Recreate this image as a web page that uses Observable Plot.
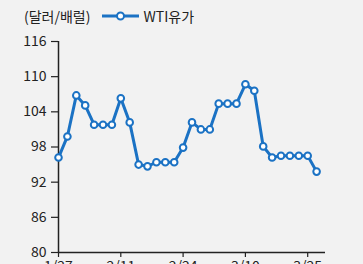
<!DOCTYPE html>
<html><head><meta charset="utf-8">
<script src="https://cdn.jsdelivr.net/npm/d3@7"></script>
<script src="https://cdn.jsdelivr.net/npm/@observablehq/plot@0.6"></script>
<style>
html,body{margin:0;padding:0;background:#f2f2f2;overflow:hidden;}
#wrap{position:relative;width:363px;height:264px;font-family:"Noto Sans CJK KR","Noto Sans",sans-serif;color:#222;}
#legend{position:absolute;left:24px;top:6px;font-size:14px;display:flex;align-items:center;white-space:nowrap;}
#legend svg{margin:0 4px 0 12px;}
#chart{position:absolute;left:0;top:0;}
</style></head>
<body><div id="wrap">
<div id="chart"></div>
<div id="legend"><span>(달러/배럴)</span><svg width="37" height="12"><line x1="0" y1="6" x2="37" y2="6" stroke="#1b72c4" stroke-width="3"/><circle cx="18.5" cy="6" r="3.5" fill="#fff" stroke="#1b72c4" stroke-width="2"/></svg><span>WTI유가</span></div>
</div>
<script>
const seriesName = "WTI유가";
const values = [96.2, 99.8, 106.8, 105.1, 101.8, 101.8, 101.8, 106.3, 102.2, 95.0,
                94.7, 95.4, 95.4, 95.4, 97.9, 102.2, 101.0, 101.0, 105.4, 105.4,
                105.4, 108.7, 107.6, 98.1, 96.2, 96.5, 96.5, 96.5, 96.5, 93.8];
const tickIndex = [0, 7, 14, 21, 28];
const tickLabels = ["1/27", "2/11", "2/24", "3/10", "3/25"];
const yTicks = [80, 86, 92, 98, 104, 110, 116];

const data = values.map((v, i) => ({i, v}));
const color = "#1b72c4";

const chart = Plot.plot({
  width: 363,
  height: 280,
  marginLeft: 58,
  marginRight: 38,
  marginTop: 41,
  marginBottom: 28,
  style: {background: "transparent", fontFamily: '"Noto Sans CJK KR","Noto Sans",sans-serif', fontSize: "14px", color: "#222"},
  x: {domain: [0, 30]},
  y: {domain: [80, 116]},
  marks: [
    Plot.axisY({ticks: yTicks, tickSize: 7, tickPadding: 5, label: null, stroke: "#222", strokeWidth: 1.2}),
    Plot.axisX({ticks: tickIndex, tickFormat: (d) => tickLabels[tickIndex.indexOf(d)], tickSize: 5, tickPadding: 4, label: null, stroke: "#222", strokeWidth: 1.2}),
    Plot.ruleX([0], {y1: 80, y2: 116, stroke: "#222", strokeWidth: 1.5}),
    Plot.ruleY([80], {stroke: "#222", strokeWidth: 1.5}),
    Plot.line(data, {x: "i", y: "v", stroke: color, strokeWidth: 3}),
    Plot.dot(data, {x: "i", y: "v", r: 3.3, fill: "#fff", stroke: color, strokeWidth: 2})
  ]
});
document.getElementById("chart").appendChild(chart);
</script>
</body></html>
